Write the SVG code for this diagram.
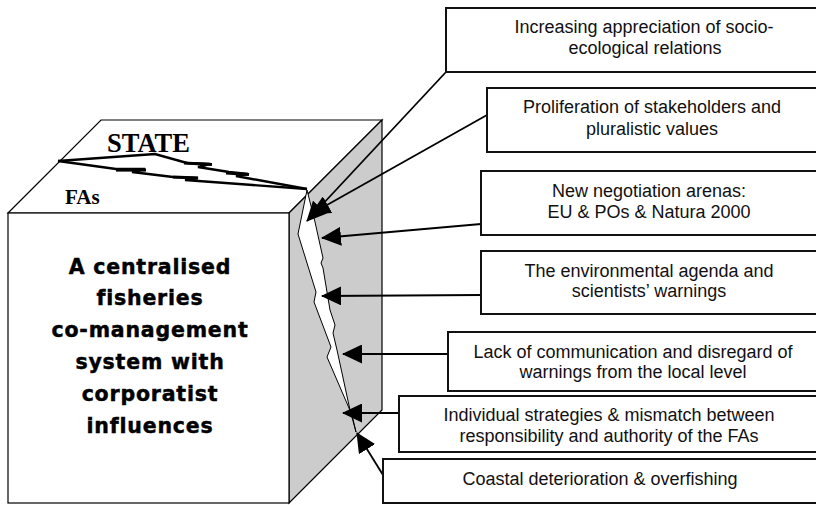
<svg xmlns="http://www.w3.org/2000/svg" width="816" height="505" viewBox="0 0 816 505">
<style>
.edge{fill:#fff;stroke:#000;stroke-width:1.2}
.side{fill:#cccccc;stroke:#000;stroke-width:1.2}
.serif{font-family:"Liberation Serif","Times New Roman",serif;font-weight:bold;fill:#000}
.main{font-family:"DejaVu Sans","Liberation Sans",sans-serif;font-weight:bold;font-size:20.5px;letter-spacing:0.8px;text-anchor:middle;fill:#000;stroke:#000;stroke-width:0.45}
.box rect{fill:#fff;stroke:#111;stroke-width:2}
.box text{font-family:"Liberation Sans",Arial,sans-serif;font-size:18px;text-anchor:middle;fill:#111}
.arr{stroke:#000;stroke-width:1.8;fill:none;marker-end:url(#ah)}
.bolt{fill:none;stroke:#000;stroke-width:2.4;stroke-linejoin:miter}
.notch{stroke:#000;stroke-width:3.2}
</style>
<defs>
<marker id="ah" viewBox="0 0 20 19" refX="19" refY="9.5" markerWidth="20" markerHeight="19" markerUnits="userSpaceOnUse" orient="auto">
<path d="M0,0 L20,9.5 L0,19 z" fill="#000"/>
</marker>
</defs>
<g id="cube">
<polygon class="edge" points="8,213 101,120 382,120 289,213"/>
<polygon class="side" points="289,213 382,120 382,410 289,503"/>
<rect class="edge" x="8" y="213" width="281" height="290"/>
<polygon fill="#fff" stroke="#000" stroke-width="1" points="307,190 298,234 316,292 314,302 331,347 327,357 352,415 356,432 350,410 337,350 333,333 335,325 330,310 323,268 321,263 323,258 315,222"/>
<path class="bolt" d="M58,161 L155,154 L187,163 L210,164 L198,167 L229,172 L248,174 L236,176 L307,189"/>
<path class="bolt" d="M58,161 L116,169 L145,169 L132,172 L173,177 L198,178 L185,180 L307,189"/>
<line class="notch" x1="184" y1="163" x2="212" y2="164.5"/>
<line class="notch" x1="226" y1="173" x2="249" y2="174.5"/>
<line class="notch" x1="116" y1="170" x2="146" y2="170"/>
<line class="notch" x1="173" y1="177" x2="198" y2="178"/>
<text class="serif" x="107" y="152" font-size="26.5">STATE</text>
<text class="serif" x="65" y="204" font-size="21">FAs</text>
<text class="main" x="150" y="274">A centralised</text>
<text class="main" x="150" y="305">fisheries</text>
<text class="main" x="150" y="337">co-management</text>
<text class="main" x="150" y="369">system with</text>
<text class="main" x="150" y="401">corporatist</text>
<text class="main" x="150" y="433">influences</text>
</g>
<g id="connectors">
<line class="arr" x1="446" y1="72" x2="307" y2="221"/>
<line class="arr" x1="487" y1="115" x2="311" y2="214"/>
<line class="arr" x1="481" y1="224" x2="322" y2="238"/>
<line class="arr" x1="481" y1="295" x2="322" y2="296"/>
<line class="arr" x1="448" y1="354" x2="343" y2="354"/>
<line class="arr" x1="399" y1="413" x2="343" y2="413"/>
<line class="arr" x1="383" y1="475" x2="357" y2="433"/>
</g>
<g id="box1" class="box"><rect x="446" y="8" width="380" height="64"/>
<text x="644" y="33">Increasing appreciation of socio-</text><text x="645" y="54">ecological relations</text></g>
<g id="box2" class="box"><rect x="487" y="88" width="340" height="64"/>
<text x="652" y="113">Proliferation of stakeholders and</text><text x="652" y="135">pluralistic values</text></g>
<g id="box3" class="box"><rect x="481" y="171" width="346" height="64"/>
<text x="649" y="197">New negotiation arenas:</text><text x="649" y="218">EU &amp; POs &amp; Natura 2000</text></g>
<g id="box4" class="box"><rect x="481" y="251" width="346" height="63"/>
<text x="649" y="277">The environmental agenda and</text><text x="649" y="297">scientists’ warnings</text></g>
<g id="box5" class="box"><rect x="448" y="332" width="380" height="59"/>
<text x="633" y="358">Lack of communication and disregard of</text><text x="633" y="378">warnings from the local level</text></g>
<g id="box6" class="box"><rect x="399" y="396" width="430" height="56"/>
<text x="609" y="421">Individual strategies &amp; mismatch between</text><text x="609" y="442">responsibility and authority of the FAs</text></g>
<g id="box7" class="box"><rect x="383" y="459" width="446" height="44"/>
<text x="600" y="485">Coastal deterioration &amp; overfishing</text></g>
</svg>
